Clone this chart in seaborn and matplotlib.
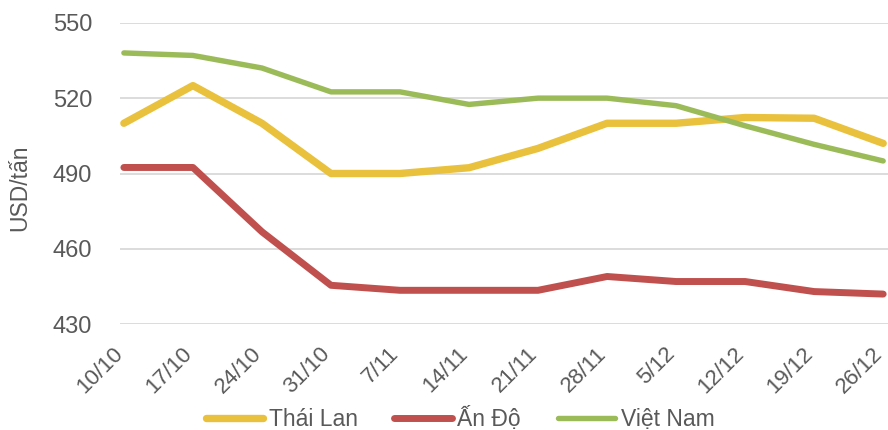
import matplotlib
matplotlib.use("Agg")
import matplotlib.pyplot as plt
from matplotlib.transforms import ScaledTranslation
import seaborn as sns
import pandas as pd

dates = ["10/10", "17/10", "24/10", "31/10", "7/11", "14/11", "21/11", "28/11", "5/12", "12/12", "19/12", "26/12"]
thai = [510, 525, 510, 490, 490, 492.3, 500, 510, 510, 512.3, 512, 502]
india = [492.4, 492.4, 466.8, 445.5, 443.5, 443.5, 443.5, 449, 447, 447, 443, 442]
vietnam = [538, 537, 532, 522.5, 522.5, 517.5, 520, 520, 517, 509, 501.6, 495]
series_names = ["Thái Lan", "Ấn Độ", "Việt Nam"]
colors = ["#E9C13C", "#C0504D", "#9BBB59"]
widths = [5.3, 5.0, 3.9]
yticks = [430, 460, 490, 520, 550]

rows = []
for name, vals in zip(series_names, [thai, india, vietnam]):
    for i, (d, v) in enumerate(zip(dates, vals)):
        rows.append({"idx": i, "date": d, "value": v, "series": name})
df = pd.DataFrame(rows)

sns.set_theme(style="white")
plt.rcParams["font.family"] = ["Liberation Sans", "DejaVu Sans"]

fig = plt.figure(figsize=(8.88, 4.30), dpi=100)
ax = fig.add_axes([0.135, 0.246, 0.865, 0.701])

for name, col, lw in zip(series_names, colors, widths):
    sub = df[df["series"] == name]
    sns.lineplot(data=sub, x="idx", y="value", ax=ax, color=col, linewidth=lw,
                 label=name, solid_capstyle="round", solid_joinstyle="round")

ax.set_ylim(430, 550)
ax.set_yticks(yticks)
ax.set_xlim(-0.058, 11.07)
ax.set_xticks(range(len(dates)))
ax.set_xticklabels(dates, rotation=45, ha="right", va="center", rotation_mode="anchor")
ax.tick_params(axis="y", colors="#595959", labelsize=17, length=0, pad=20)
ax.tick_params(axis="x", colors="#595959", labelsize=16, length=0, pad=19)
offset = ScaledTranslation(-4 / 100, 0, fig.dpi_scale_trans)
for lab in ax.get_xticklabels():
    lab.set_transform(lab.get_transform() + offset)
ax.grid(axis="y", color="#D9D9D9", linewidth=1.3)
ax.set_axisbelow(True)
for s in ax.spines.values():
    s.set_visible(False)
ax.set_xlabel("")
ax.set_ylabel("USD/tấn", color="#595959", fontsize=16.5)
ax.yaxis.set_label_coords(-0.116, 0.452)

ax.legend(loc="center", bbox_to_anchor=(0.443, -0.315), ncol=3, frameon=False,
          fontsize=16.5, handlelength=2.5, handletextpad=0.25, columnspacing=1.6,
          labelcolor="#595959")

fig.savefig("out.png", dpi=100)
